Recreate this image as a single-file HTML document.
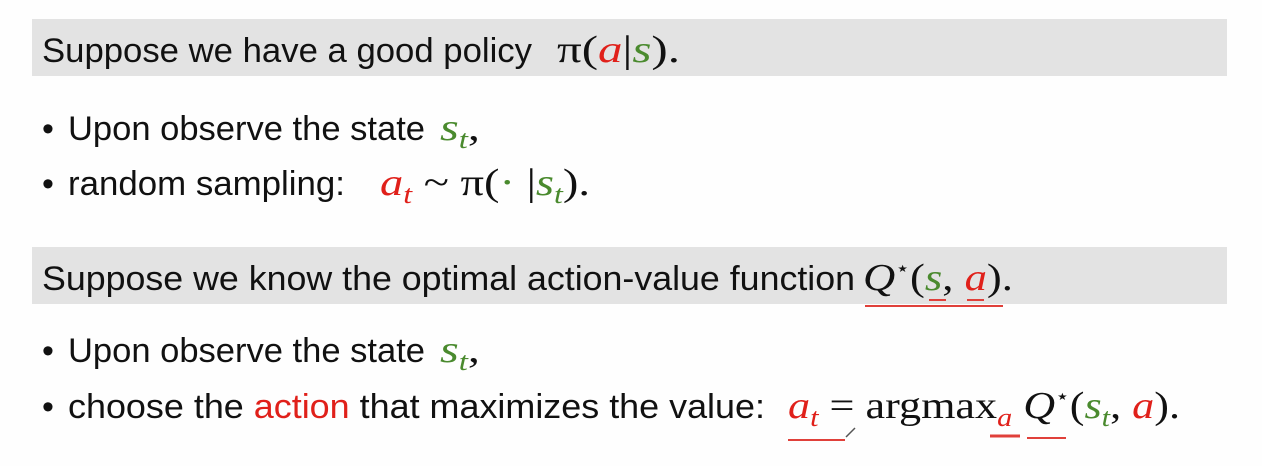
<!DOCTYPE html>
<html><head><meta charset="utf-8"><style>
html,body{margin:0;padding:0;background:#fff;}
svg{display:block}
.t{font-family:"Liberation Sans",sans-serif;font-size:34px;fill:#111}
.m{font-family:"Liberation Serif",serif;font-size:38px;fill:#111}
.i{font-style:italic}
.r{fill:#e0201a}.g{fill:#4a8a2e}
</style></head><body>
<svg width="1262" height="466" viewBox="0 0 1262 466">
<rect width="1262" height="466" fill="#fefefe"/>
<rect x="32" y="19" width="1195" height="57" fill="#e3e3e3"/>
<rect x="32" y="247" width="1195" height="57" fill="#e3e3e3"/>

<text class="t" x="42" y="62" textLength="490" lengthAdjust="spacingAndGlyphs">Suppose we have a good policy</text>
<text class="m" x="557" y="62" textLength="123" lengthAdjust="spacingAndGlyphs">π(<tspan class="i r">a</tspan>|<tspan class="i g">s</tspan>).</text>

<text class="t" x="42" y="140">•</text>
<text class="t" x="68" y="140" textLength="357" lengthAdjust="spacingAndGlyphs">Upon observe the state</text>
<text class="m i g" x="440" y="140" textLength="40" lengthAdjust="spacingAndGlyphs">s<tspan font-size="26" dy="8">t</tspan><tspan fill="#111" dy="-8" style="font-style:normal">,</tspan></text>

<text class="t" x="42" y="195">•</text>
<text class="t" x="68" y="195" textLength="277" lengthAdjust="spacingAndGlyphs">random sampling:</text>
<text class="m" x="380" y="195" textLength="210" lengthAdjust="spacingAndGlyphs"><tspan class="i r">a</tspan><tspan class="i r" font-size="26" dy="8">t</tspan><tspan dy="-8"> ~ π(</tspan><tspan class="g">·</tspan> |<tspan class="i g">s</tspan><tspan class="i g" font-size="26" dy="8">t</tspan><tspan dy="-8">).</tspan></text>

<text class="t" x="42" y="290" textLength="813" lengthAdjust="spacingAndGlyphs">Suppose we know the optimal action-value function</text>
<text class="m" x="863" y="290" textLength="150" lengthAdjust="spacingAndGlyphs"><tspan class="i">Q</tspan><tspan font-size="20" dy="-15">⋆</tspan><tspan dy="15">(</tspan><tspan class="i g">s</tspan>, <tspan class="i r">a</tspan>).</text>
<path d="M865 306 L1003 306" stroke="#e0403a" stroke-width="2" fill="none"/>
<path d="M929 300 L946 300 M967 300 L984 300" stroke="#e0403a" stroke-width="2" fill="none"/>

<text class="t" x="42" y="362">•</text>
<text class="t" x="68" y="362" textLength="357" lengthAdjust="spacingAndGlyphs">Upon observe the state</text>
<text class="m i g" x="440" y="362" textLength="40" lengthAdjust="spacingAndGlyphs">s<tspan font-size="26" dy="8">t</tspan><tspan fill="#111" dy="-8" style="font-style:normal">,</tspan></text>

<text class="t" x="42" y="418">•</text>
<text class="t" x="68" y="418" textLength="697" lengthAdjust="spacingAndGlyphs">choose the <tspan class="r">action</tspan> that maximizes the value:</text>
<text class="m" x="788" y="418" textLength="392" lengthAdjust="spacingAndGlyphs"><tspan class="i r">a</tspan><tspan class="i r" font-size="26" dy="8">t</tspan><tspan dy="-8"> = argmax</tspan><tspan class="i r" font-size="26" dy="8">a</tspan><tspan dy="-8"> </tspan><tspan class="i">Q</tspan><tspan font-size="20" dy="-15">⋆</tspan><tspan dy="15">(</tspan><tspan class="i g">s</tspan><tspan class="i g" font-size="26" dy="8">t</tspan><tspan dy="-8">, </tspan><tspan class="i r">a</tspan>).</text>
<path d="M788 440 L845 440" stroke="#e0403a" stroke-width="2" fill="none"/>
<path d="M990 436 L1020 436" stroke="#e0403a" stroke-width="3" fill="none"/>
<path d="M1027 438 L1066 438" stroke="#e0403a" stroke-width="2" fill="none"/>
<path d="M846 437 L855 428" stroke="#555" stroke-width="1.5" fill="none"/>
</svg>
</body></html>
